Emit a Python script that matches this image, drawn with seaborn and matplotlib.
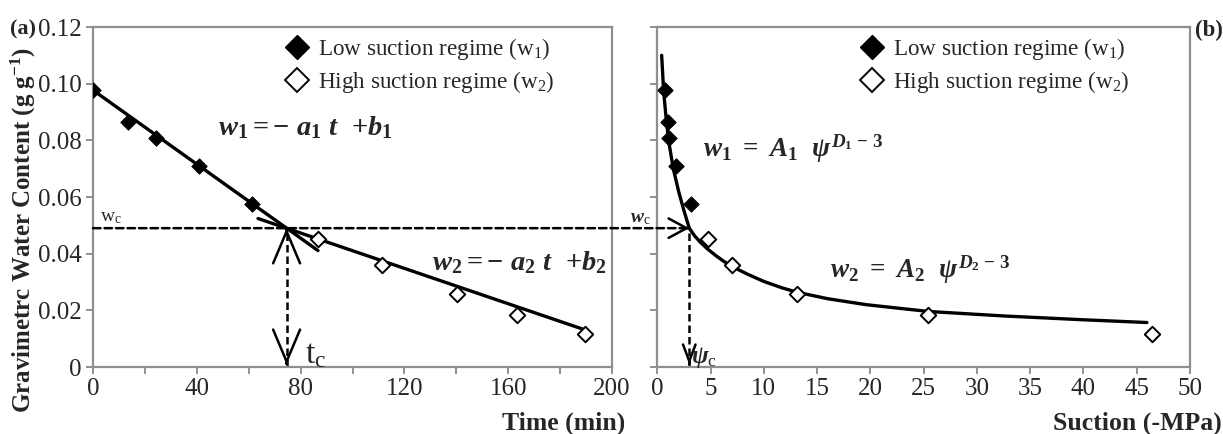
import seaborn as sns
import matplotlib.pyplot as plt
import pandas as pd
from matplotlib.lines import Line2D
from matplotlib.patches import ConnectionPatch

sns.set_style("ticks")
plt.rcParams['font.family'] = ['Liberation Serif', 'DejaVu Serif']
plt.rcParams['mathtext.fontset'] = 'custom'
plt.rcParams['mathtext.rm'] = 'Liberation Serif'
plt.rcParams['mathtext.it'] = 'Liberation Serif:italic:bold'
plt.rcParams['mathtext.bf'] = 'Liberation Serif:bold'

# measured points
time_low = [0, 13.4, 24.3, 41.0, 61.4]
time_high = [86.8, 111.2, 140.2, 163.3, 189.7]
suction_low = [0.72, 1.03, 1.13, 1.76, 3.13]
suction_high = [4.73, 7.04, 13.1, 25.45, 46.4]
w_low = [0.0977, 0.0864, 0.0808, 0.0708, 0.0577]
w_high = [0.0453, 0.0360, 0.0257, 0.0183, 0.0117]

# fitted lines / curves
fit1_time = [0, 86.7]
fit1_w = [0.0977, 0.0411]
fit2_time = [63.6, 189.6]
fit2_w = [0.0524, 0.0131]
curve1_suction = [0.41, 0.6, 0.85, 1.1, 1.5, 2.0, 2.5, 3.0]
curve1_w = [0.110, 0.097, 0.087, 0.079, 0.070, 0.062, 0.0552, 0.049]
curve2_suction = [3.0, 3.5, 4.0, 4.7, 5.5, 6.2, 7.0, 8.5, 10, 11.66, 13.1,
                  16, 19.6, 25.45, 32.6, 39.8, 45.95]
curve2_w = [0.049, 0.0463, 0.0442, 0.0417, 0.0393, 0.0374, 0.0355, 0.0327,
            0.0302, 0.0280, 0.0264, 0.0241, 0.0220, 0.0196, 0.0180, 0.0167, 0.0157]

# critical point
w_c = 0.049
t_c = 74.6
psi_c = 3.0

time_ticks = list(range(0, 201, 20))
suction_ticks = list(range(0, 51, 5))
w_ticks = [0, 0.02, 0.04, 0.06, 0.08, 0.10, 0.12]
w_ticklabels = ['0', '0.02', '0.04', '0.06', '0.08', '0.10', '0.12']

low = pd.DataFrame({'time': time_low, 'suction': suction_low, 'w': w_low})
high = pd.DataFrame({'time': time_high, 'suction': suction_high, 'w': w_high})

W, H = 1223, 434
fig = plt.figure(figsize=(W / 100, H / 100), dpi=100)
ax1 = fig.add_axes([93 / W, 67 / H, 519 / W, 340 / H])
ax2 = fig.add_axes([657.3 / W, 67 / H, 532.7 / W, 340 / H])

grey = '#8f8f8f'
dash = (0, (3, 1.6))
LW = 2.4
MS = 62

for ax in (ax1, ax2):
    for sp in ax.spines.values():
        sp.set_visible(True)
        sp.set_color(grey)
        sp.set_linewidth(1.6)
    ax.tick_params(direction='out', length=5, width=1.4, color=grey,
                   labelsize=18, pad=3)
    ax.set_ylim(0, 0.12)
    ax.set_yticks(w_ticks)

# ---- panel (a)
sns.lineplot(x=fit1_time, y=fit1_w, ax=ax1, color='black', lw=LW, zorder=2)
sns.lineplot(x=fit2_time, y=fit2_w, ax=ax1, color='black', lw=LW, zorder=2)
sns.scatterplot(data=low, x='time', y='w', ax=ax1, marker='D', s=MS,
                color='black', edgecolor='black', zorder=3)
sns.scatterplot(data=high, x='time', y='w', ax=ax1, marker='D', s=MS,
                facecolor='white', edgecolor='black', linewidth=1.4, zorder=3)
ax1.set_xlim(0, 200)
ax1.set_xticks(time_ticks)
ax1.set_xticklabels([str(t) if t % 40 == 0 else '' for t in time_ticks])
ax1.set_yticklabels(w_ticklabels)
ax1.set_xlabel('')
ax1.set_ylabel(r'Gravimetrc Water Content (g g$^{\mathbf{-1}}$)',
               fontsize=18, fontweight='bold')
ax1.yaxis.set_label_coords(-0.106, 0.403)

ax1.vlines(t_c, 0, w_c, colors='black', linestyles=dash, lw=1.8)
ax1.text(48.2, 0.0819, r'$w_\mathbf{1}\mathbf{=-}\ a_\mathbf{1}\ t\ \ \mathbf{+}b_\mathbf{1}$',
         fontsize=20.5, ha='left', va='baseline')
ax1.text(130.6, 0.0342, r'$w_\mathbf{2}\mathbf{=-}\ a_\mathbf{2}\ t\ \ \mathbf{+}b_\mathbf{2}$',
         fontsize=20.5, ha='left', va='baseline')
ax1.text(2.7, 0.0515, r'w$_{\rm c}$', fontsize=14, ha='left', va='baseline')
ax1.text(81.7, 0.0014, r't$_{\rm c}$', fontsize=24, ha='left', va='baseline')

# ---- panel (b)
sns.lineplot(x=curve1_suction, y=curve1_w, ax=ax2, color='black', lw=LW,
             sort=False, zorder=2)
sns.lineplot(x=curve2_suction, y=curve2_w, ax=ax2, color='black', lw=LW,
             sort=False, zorder=2)
sns.scatterplot(data=low, x='suction', y='w', ax=ax2, marker='D', s=MS,
                color='black', edgecolor='black', zorder=3)
sns.scatterplot(data=high, x='suction', y='w', ax=ax2, marker='D', s=MS,
                facecolor='white', edgecolor='black', linewidth=1.4, zorder=3)
ax2.set_xlim(0, 50)
ax2.set_xticks(suction_ticks)
ax2.set_yticklabels([])
ax2.set_xlabel('')
ax2.set_ylabel('')

ax2.vlines(psi_c, 0, w_c, colors='black', linestyles=dash, lw=1.8)
ax2.text(4.26, 0.0741, r'$w_\mathbf{1}\ \mathbf{=}\ A_\mathbf{1}\ \ \psi^{D_\mathbf{1}\ \mathbf{-\ 3}}$',
         fontsize=19.5, ha='left', va='baseline')
ax2.text(16.2, 0.0314, r'$w_\mathbf{2}\ \mathbf{=}\ A_\mathbf{2}\ \ \psi^{D_\mathbf{2}\ \mathbf{-\ 3}}$',
         fontsize=19.5, ha='left', va='baseline')
ax2.text(-2.56, 0.0512, r'$w_{\rm c}$', fontsize=14, ha='left', va='baseline')
ax2.text(3.2, 0.0015, r'$\psi_{\rm c}$', fontsize=18, ha='left', va='baseline')

# dashed link between panels
con = ConnectionPatch(xyA=(0, w_c), coordsA=ax1.transData,
                      xyB=(psi_c, w_c), coordsB=ax2.transData,
                      linestyle=dash, lw=1.8, color='black')
fig.add_artist(con)


def head(ax, xy, off, L, Wd):
    ax.annotate('', xy=xy, xytext=off, textcoords='offset points',
                arrowprops=dict(arrowstyle=f'->,head_length={L},head_width={Wd}',
                                mutation_scale=1, lw=1.8, color='black',
                                shrinkA=0, shrinkB=0))


head(ax1, (t_c, w_c), (0, -1), 23, 9.7)
head(ax1, (t_c, 0.0008), (0, 1), 23, 9.7)
head(ax2, (psi_c, w_c), (-1, 0), 13, 7)
head(ax2, (psi_c, 0.0008), (0, 1), 12, 4.5)

# legends
handles = [Line2D([], [], marker='D', ls='none', color='black', markersize=12),
           Line2D([], [], marker='D', ls='none', markerfacecolor='white',
                  markeredgecolor='black', markeredgewidth=1.4, markersize=12)]
labels = [r'Low suction regime (w$_1$)', r'High suction regime (w$_2$)']
for x0 in (285.5, 860.5):
    fig.legend(handles, labels, loc='upper left',
               bbox_to_anchor=(x0 / W, 1 - 36 / H), bbox_transform=fig.transFigure,
               frameon=False, fontsize=16.7, handlelength=1, handletextpad=0.38,
               borderpad=0, borderaxespad=0, labelspacing=0.3)

fig.text(10 / W, 1 - 34 / H, '(a)', fontsize=16, fontweight='bold', va='baseline')
fig.text(1195 / W, 1 - 36 / H, '(b)', fontsize=16.5, fontweight='bold', va='baseline')
fig.text(564 / W, 1 - 430 / H, 'Time (min)', fontsize=18.5, fontweight='bold',
         ha='center', va='baseline')
fig.text(1222 / W, 1 - 430 / H, 'Suction (-MPa)', fontsize=18.5, fontweight='bold',
         ha='right', va='baseline')

fig.savefig('out.png', dpi=100)
plt.close(fig)
